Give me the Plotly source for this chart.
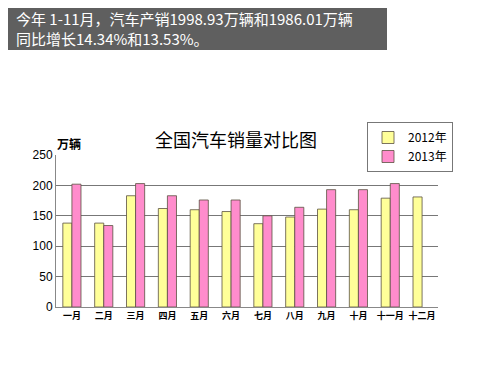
import plotly.graph_objects as go

months = ["一月", "二月", "三月", "四月", "五月", "六月", "七月", "八月", "九月", "十月", "十一月", "十二月"]
sales_2012 = [138, 138, 183, 162, 160, 157, 137, 148, 161, 160, 179, 181]
sales_2013 = [202, 134, 203, 183, 176, 176, 150, 164, 193, 193, 203, None]
y_ticks = [0, 50, 100, 150, 200, 250]

# page has an 8px body margin; figure coords = page coords - 8
OFF = 8
W, H = 492, 367
L, R, T, B = 56 - OFF, W - (438 - OFF), 155 - OFF, H - (307 - OFF)
pw = W - L - R
ph = H - T - B


def px(x):
    return (x - OFF - L) / pw


def py(y):
    return (H - B - (y - OFF)) / ph


fig = go.Figure()
fig.add_trace(go.Bar(x=months, y=sales_2012, name="2012年",
                     marker=dict(color="#FFFF99", line=dict(color="#5a5040", width=0.8))))
fig.add_trace(go.Bar(x=months, y=sales_2013, name="2013年",
                     marker=dict(color="#FF8CCC", line=dict(color="#5a5040", width=0.8))))

fig.update_layout(
    width=W, height=H,
    margin=dict(l=L, r=R, t=T, b=B),
    paper_bgcolor="white", plot_bgcolor="white",
    barmode="group", bargap=0.43, bargroupgap=0,
    font=dict(family="Noto Sans CJK SC, sans-serif", color="black"),
    showlegend=True,
    legend=dict(x=px(410), y=py(122), xanchor="center", yanchor="top",
                xref="paper", yref="paper",
                bgcolor="white", bordercolor="#777777", borderwidth=1,
                font=dict(size=12, family="Noto Sans CJK SC, sans-serif"),
                tracegroupgap=0, itemwidth=30),
    xaxis=dict(showline=True, linecolor="#888888", ticks="",
               tickfont=dict(size=9, family="Noto Sans CJK SC", weight="bold"),
               showgrid=False),
    yaxis=dict(range=[0, 250], tickvals=y_ticks, showline=True, linecolor="#888888",
               gridcolor="#777777", gridwidth=1, tickfont=dict(size=12, family="Liberation Sans"),
               zeroline=False, ticks=""),
)

fig.add_shape(type="rect", xref="paper", yref="paper",
              x0=px(7), x1=px(387), y0=py(50), y1=py(7),
              fillcolor="#5f5f5f", line=dict(width=0), layer="above")
fig.add_annotation(xref="paper", yref="paper", x=px(14), y=py(28.5),
                   xanchor="left", yanchor="middle", align="left", showarrow=False,
                   text="今年 1-11月，汽车产销1998.93万辆和1986.01万辆<br>同比增长14.34%和13.53%。",
                   font=dict(size=15, color="white", family="Noto Sans CJK SC"))
fig.add_annotation(xref="paper", yref="paper", x=px(236), y=py(139),
                   xanchor="center", yanchor="middle", showarrow=False,
                   text="全国汽车销量对比图", font=dict(size=18, color="black", family="Noto Sans CJK SC"))
fig.add_annotation(xref="paper", yref="paper", x=px(55), y=py(143),
                   xanchor="left", yanchor="middle", showarrow=False,
                   text="<b>万辆</b>", font=dict(size=12, color="black", family="Noto Sans CJK SC"))

fig.write_html("out.html")
